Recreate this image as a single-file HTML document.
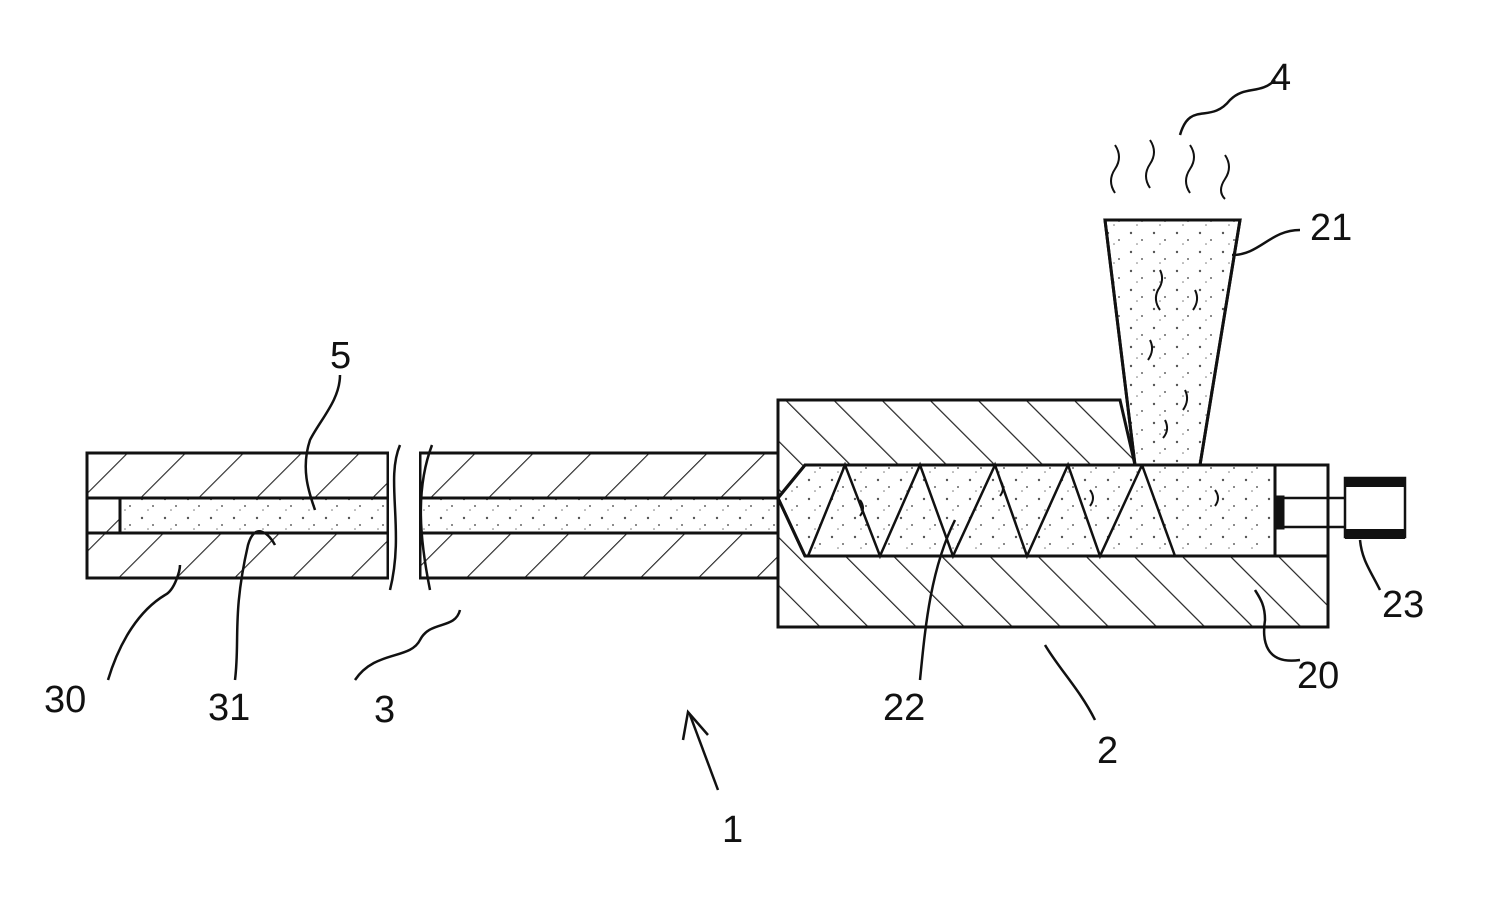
<!DOCTYPE html>
<html><head><style>body{margin:0;background:#fff}svg{display:block}text{font-family:"Liberation Sans",sans-serif;font-size:38px;fill:#111}</style></head><body>
<svg width="1485" height="899" viewBox="0 0 1485 899">
<defs>
<pattern id="hL" width="41" height="41" patternUnits="userSpaceOnUse" patternTransform="rotate(45)"><line x1="0" y1="0" x2="0" y2="41" stroke="#222" stroke-width="2.2"/></pattern>
<pattern id="hR" width="34" height="34" patternUnits="userSpaceOnUse" patternTransform="rotate(-45)"><line x1="0" y1="0" x2="0" y2="34" stroke="#222" stroke-width="2.4"/></pattern>
<pattern id="dots" width="23" height="19" patternUnits="userSpaceOnUse"><circle cx="4" cy="5" r="1.2" fill="#555"/><circle cx="15" cy="12" r="1" fill="#666"/><circle cx="10" cy="16" r="0.8" fill="#777"/></pattern>
</defs>
<g stroke="#111" stroke-width="3" fill="none">
<rect x="87" y="453" width="301" height="45" fill="url(#hL)"/>
<rect x="87" y="533" width="301" height="45" fill="url(#hL)"/>
<rect x="87" y="498" width="33" height="35" fill="url(#hL)"/>
<rect x="120" y="498" width="268" height="35" fill="url(#dots)"/>
<rect x="420" y="453" width="358" height="45" fill="url(#hL)"/>
<rect x="420" y="533" width="358" height="45" fill="url(#hL)"/>
<rect x="420" y="498" width="358" height="35" fill="url(#dots)"/>
<rect x="389" y="440" width="30" height="150" fill="#fff" stroke="none"/>
<path d="M400 445 C385 480 405 530 390 590" stroke-width="2.5"/>
<path d="M432 445 C415 490 420 540 430 590" stroke-width="2.5"/>
<path d="M778 400 H1120 L1135 465 H1328 V627 H778 Z" fill="url(#hR)"/>
<path d="M778 498 L805 465 H1275 V556 H805 Z" fill="#fff"/>
<path d="M778 498 L805 465 H1275 V556 H805 Z" fill="url(#dots)"/>
<rect x="1275" y="465" width="53" height="91" fill="#fff"/>
<path d="M808 556 L845 465 L880 556 L920 465 L953 556 L995 465 L1027 556 L1068 465 L1100 556 L1142 465 L1175 556" stroke-width="2.5"/>
<line x1="1283" y1="498" x2="1345" y2="498" stroke-width="2.5"/>
<line x1="1283" y1="527" x2="1345" y2="527" stroke-width="2.5"/>
<rect x="1275" y="497" width="8" height="31" fill="#111"/>
<rect x="1345" y="478" width="60" height="59" fill="#fff" stroke-width="2.5"/>
<rect x="1345" y="477" width="60" height="10" fill="#111" stroke="none"/>
<rect x="1345" y="529" width="60" height="10" fill="#111" stroke="none"/>
<path d="M1105 220 H1240 L1200 465 H1135 Z" fill="#fff"/>
<path d="M1105 220 H1240 L1200 465 H1135 Z" fill="url(#dots)"/>
<g stroke-width="2">
<path d="M1160 270 q5 10 -2 20 q-5 10 2 20"/><path d="M1195 290 q5 10 -2 20"/><path d="M1150 340 q5 10 -2 20"/><path d="M1185 390 q5 10 -2 20"/><path d="M1165 420 q5 10 -2 18"/>
<path d="M1115 145 q8 12 0 24 q-8 12 0 24"/><path d="M1150 140 q8 12 0 24 q-8 12 0 24"/><path d="M1190 145 q8 12 0 24 q-8 12 0 24"/><path d="M1225 155 q8 12 0 24 q-8 12 0 20"/>
<path d="M860 500 q6 8 0 16"/><path d="M1000 480 q6 8 0 16"/><path d="M1090 490 q6 8 0 16"/><path d="M1215 490 q6 8 0 16"/>
</g>
<g stroke-width="2.5">
<path d="M1180 135 C1190 100 1210 125 1230 100 C1245 85 1260 95 1275 80"/>
<path d="M1232 255 C1260 255 1270 230 1300 230"/>
<path d="M340 375 C340 400 320 420 310 440 C300 470 310 495 315 510"/>
<path d="M108 680 C120 640 140 610 165 595 C175 590 180 570 180 565"/>
<path d="M235 680 C240 640 232 615 248 545 C255 520 270 535 275 545"/>
<path d="M355 680 C375 650 410 660 420 640 C430 620 455 630 460 610"/>
<path d="M718 790 L690 715"/><path d="M683 740 L688 712 L708 735"/>
<path d="M920 680 C925 630 930 570 955 520"/>
<path d="M1095 720 C1080 690 1060 670 1045 645"/>
<path d="M1300 660 C1265 665 1262 640 1265 620 C1265 605 1260 598 1255 590"/>
<path d="M1380 590 C1370 570 1362 560 1360 540"/>
</g>
</g>
<text x="1270" y="90">4</text>
<text x="1310" y="240">21</text>
<text x="330" y="368">5</text>
<text x="44" y="712">30</text>
<text x="208" y="720">31</text>
<text x="374" y="722">3</text>
<text x="722" y="842">1</text>
<text x="883" y="720">22</text>
<text x="1097" y="763">2</text>
<text x="1297" y="688">20</text>
<text x="1382" y="617">23</text>
</svg>
</body></html>
